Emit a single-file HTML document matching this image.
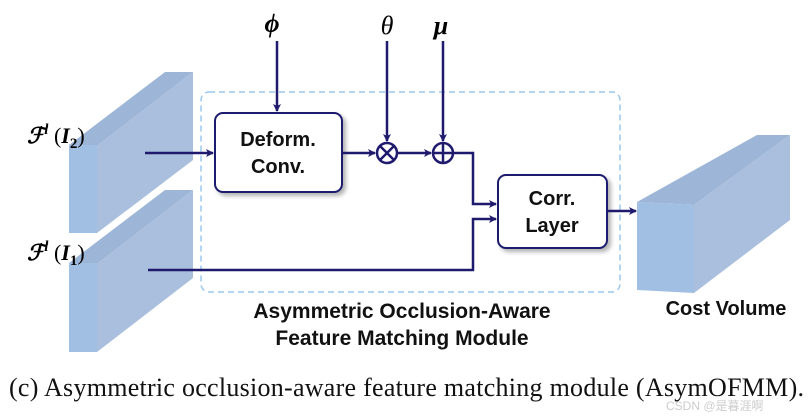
<!DOCTYPE html>
<html><head><style>
body{margin:0;background:#fff;}
svg{display:block}
.s{font-family:"Liberation Sans",sans-serif;font-weight:bold;}
</style></head><body>
<svg width="810" height="416" viewBox="0 0 810 416" xmlns="http://www.w3.org/2000/svg">
<defs>
<marker id="a" markerWidth="8" markerHeight="8" refX="7" refY="4" orient="auto" markerUnits="userSpaceOnUse"><path d="M0,0 L8,4 L0,8 L2,4Z" fill="#1f1a6e"/></marker>
<filter id="sh" x="-10%" y="-10%" width="130%" height="130%"><feDropShadow dx="3" dy="3" stdDeviation="2" flood-color="#000" flood-opacity="0.3"/></filter>
</defs>
<polygon points="69,145 165,72 193,72 97,146" fill="#9db6d8"/>
<polygon points="97,146 193,72 193,160 97,233" fill="#aabfdd"/>
<rect x="69" y="145" width="28" height="88" fill="#a0bfe2"/>
<polygon points="69,263 165,190 193,190 97,264" fill="#9db6d8"/>
<polygon points="97,264 193,190 193,278 97,352" fill="#aabfdd"/>
<rect x="69" y="263" width="28" height="89" fill="#a0bfe2"/>
<polygon points="637,202 757,135 790,135 694,205" fill="#9db6d8"/>
<polygon points="694,205 790,135 790,220 694,293" fill="#aabfdd"/>
<polygon points="637,202 694,205 694,293 637,290" fill="#a0bfe2"/>
<rect x="201" y="92" width="419" height="200" rx="8" fill="none" stroke="#9cc8ef" stroke-width="1.5" stroke-dasharray="6,4"/>
<rect x="215" y="113" width="127" height="79" rx="8" fill="#fff" stroke="#1f1a6e" stroke-width="2" filter="url(#sh)"/>
<rect x="498" y="175" width="109" height="73" rx="8" fill="#fff" stroke="#1f1a6e" stroke-width="2" filter="url(#sh)"/>
<text class="s" x="278" y="146" font-size="20" text-anchor="middle" fill="#111">Deform.</text>
<text class="s" x="278" y="173" font-size="20" text-anchor="middle" fill="#111">Conv.</text>
<text class="s" x="552" y="205" font-size="20" text-anchor="middle" fill="#111">Corr.</text>
<text class="s" x="552" y="232" font-size="20" text-anchor="middle" fill="#111">Layer</text>
<g stroke="#1f1a6e" stroke-width="2.5" fill="none">
<circle cx="387" cy="153" r="10"/><path d="M380,146 L394,160 M394,146 L380,160"/>
<circle cx="443" cy="153" r="10"/><path d="M433,153 L453,153 M443,143 L443,163"/>
</g>
<g stroke="#1f1a6e" stroke-width="2.5" fill="none">
<path d="M145,153 L213,153" marker-end="url(#a)"/>
<path d="M277,41 L277,111" marker-end="url(#a)"/>
<path d="M387,41 L387,141" marker-end="url(#a)"/>
<path d="M443,41 L443,141" marker-end="url(#a)"/>
<path d="M342,153 L375,153" marker-end="url(#a)"/>
<path d="M397,153 L431,153" marker-end="url(#a)"/>
<path d="M453,153 L473,153 L473,204 L496,204" marker-end="url(#a)"/>
<path d="M148,270 L473,270 L473,219 L496,219" marker-end="url(#a)"/>
<path d="M607,211 L636,211" marker-end="url(#a)"/>
</g>
<text x="272" y="32" font-family="Liberation Serif,serif" font-size="26" font-weight="bold" font-style="italic" text-anchor="middle">ϕ</text>
<text x="387" y="34" font-family="Liberation Serif,serif" font-size="26" font-style="italic" text-anchor="middle">θ</text>
<text x="441" y="34" font-family="Liberation Serif,serif" font-size="26" font-weight="bold" font-style="italic" text-anchor="middle">μ</text>
<text x="27" y="143" font-family="Liberation Serif,serif" font-size="22" font-style="italic" font-weight="bold">ℱ<tspan font-size="15" dy="-9">l</tspan><tspan dy="9" font-style="normal" font-weight="normal"> (</tspan>I<tspan font-size="15" dy="5" font-style="normal">2</tspan><tspan dy="-5" font-style="normal" font-weight="normal">)</tspan></text>
<text x="27" y="260" font-family="Liberation Serif,serif" font-size="22" font-style="italic" font-weight="bold">ℱ<tspan font-size="15" dy="-9">l</tspan><tspan dy="9" font-style="normal" font-weight="normal"> (</tspan>I<tspan font-size="15" dy="5" font-style="normal">1</tspan><tspan dy="-5" font-style="normal" font-weight="normal">)</tspan></text>
<text class="s" x="402" y="318" font-size="21" text-anchor="middle" fill="#111">Asymmetric Occlusion-Aware</text>
<text class="s" x="402" y="345" font-size="21" text-anchor="middle" fill="#111">Feature Matching Module</text>
<text class="s" x="726" y="315" font-size="20" text-anchor="middle" fill="#111">Cost Volume</text>
<text x="9" y="396" font-family="Liberation Serif,serif" font-size="26" fill="#111" textLength="795" lengthAdjust="spacing">(c)  Asymmetric occlusion-aware feature matching module (AsymOFMM).</text>
<text x="666" y="410" font-family="Liberation Sans,Noto Sans CJK SC,sans-serif" font-size="12" fill="#ccc">CSDN @是暮涯啊</text>
</svg>
</body></html>
